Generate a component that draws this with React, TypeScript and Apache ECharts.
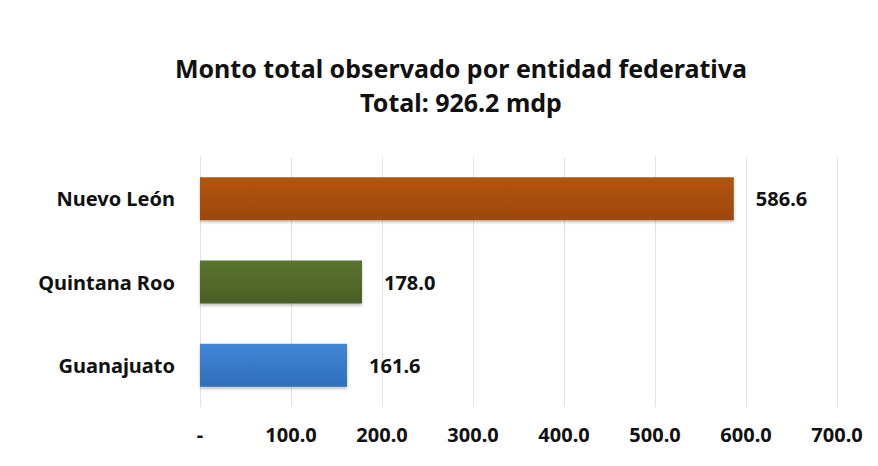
import React, { useEffect, useRef } from "react";
import * as echarts from "echarts";

const categories = ["Nuevo León", "Quintana Roo", "Guanajuato"];
const values = [586.6, 178.0, 161.6];
const barColors = [
  ["#B0550F", "#9E4708"],
  ["#5A7330", "#4A5F25"],
  ["#4287D6", "#2F6EBA"],
];
const titleText = "Monto total observado por entidad federativa\nTotal: 926.2 mdp";

const FONT = "'Noto Sans', sans-serif";

export default function App() {
  const ref = useRef<HTMLDivElement>(null);
  useEffect(() => {
    if (!ref.current) return;
    const chart = echarts.init(ref.current, null, { renderer: "svg" });
    chart.setOption({
      animation: false,
      backgroundColor: "#ffffff",
      title: {
        text: titleText,
        left: 448,
        textAlign: "center",
        top: 38,
        textStyle: {
          fontFamily: FONT,
          fontWeight: "bold",
          fontSize: 25,
          lineHeight: 34,
          color: "#111111",
        },
      },
      grid: { left: 192, right: 33, top: 149, height: 250, containLabel: false },
      xAxis: {
        type: "value",
        min: 0,
        max: 700,
        interval: 100,
        axisLine: { show: false },
        axisTick: { show: false },
        splitLine: { show: true, lineStyle: { color: "#e2e2e2", width: 1 } },
        axisLabel: {
          margin: 17,
          fontFamily: FONT,
          fontWeight: "bold",
          fontSize: 20,
          color: "#111111",
          formatter: (v: number) => (v === 0 ? "-" : v.toFixed(1)),
        },
      },
      yAxis: {
        type: "category",
        data: categories,
        inverse: true,
        axisLine: { show: false },
        axisTick: { show: false },
        axisLabel: {
          margin: 25,
          fontFamily: FONT,
          fontWeight: "bold",
          fontSize: 20,
          color: "#111111",
        },
      },
      series: [
        {
          type: "bar",
          barWidth: 43,
          data: values.map((v, i) => ({
            value: v,
            itemStyle: {
              color: new echarts.graphic.LinearGradient(0, 0, 0, 1, [
                { offset: 0, color: barColors[i][0] },
                { offset: 1, color: barColors[i][1] },
              ]),
              shadowColor: "rgba(0,0,0,0.25)",
              shadowBlur: 3,
              shadowOffsetY: 2,
            },
          })),
          label: {
            show: true,
            position: "right",
            distance: 22,
            fontFamily: FONT,
            fontWeight: "bold",
            fontSize: 20,
            color: "#111111",
            formatter: (p: any) => Number(p.value).toFixed(1),
          },
        },
      ],
    });
    return () => chart.dispose();
  }, []);
  return <div ref={ref} style={{ width: 862, height: 450 }} />;
}
